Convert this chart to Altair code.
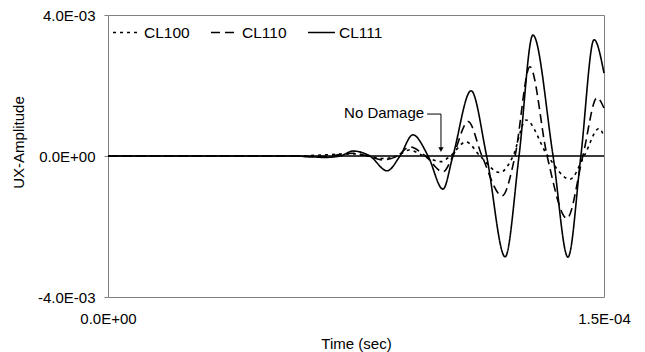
import altair as alt
import pandas as pd

series_names = ["CL100", "CL110", "CL111"]

# time in microseconds, amplitude
cl100_t = [0, 56, 74.0, 78.5, 83.0, 87.5, 91.0, 95.5, 100.7, 103.5, 108.3, 112.5, 118.5, 122.5, 126.4, 133.0, 139.7, 144.0, 148.5, 150.0]
cl100_u = [0, 0, 0.00006, 0, -0.00007, 0, 0.00017, 0, -0.00016, 0, 0.00040, 0, -0.00047, 0, 0.00102, 0, -0.00066, 0, 0.00078, 0.00055]

cl110_t = [0, 56, 62.0, 67.0, 74.1, 78.5, 83.2, 87.5, 91.3, 96.0, 101.3, 104.3, 108.9, 113.1, 119.2, 123.1, 127.6, 132.8, 138.8, 143.6, 147.9, 150.0]
cl110_u = [0, 0, -0.00002, 0, 0.00008, 0, -0.00011, 0, 0.00026, 0, -0.00045, 0, 0.00098, 0, -0.00113, 0, 0.00253, 0, -0.00177, 0, 0.00165, 0.00136]

cl111_t = [0, 56, 61.0, 65.6, 70.2, 74.1, 79.2, 84.4, 88.3, 92.2, 96.8, 101.3, 104.3, 109.8, 114.5, 120.1, 124.3, 128.5, 134.6, 139.1, 143.0, 147.0, 150.0]
cl111_u = [0, 0, -0.00002, -0.00004, 0, 0.00014, 0, -0.00042, 0, 0.00060, 0, -0.00094, 0, 0.00185, 0, -0.00286, 0, 0.00343, 0, -0.00287, 0, 0.00330, 0.00235]

x_tick_values = [0, 150]
x_tick_labels = ["0.0E+00", "1.5E-04"]
y_tick_values = [-0.004, 0, 0.004]
y_tick_labels = ["-4.0E-03", "0.0E+00", "4.0E-03"]

annotation_text = "No Damage"

FONT = "Liberation Sans"

rows = []
for name, ts, us in zip(series_names, [cl100_t, cl110_t, cl111_t], [cl100_u, cl110_u, cl111_u]):
    for i, (t, u) in enumerate(zip(ts, us)):
        rows.append({"series": name, "t": t, "u": u, "order": i})
df = pd.DataFrame(rows)


def label_expr(values, labels, eps):
    expr = "''"
    for v, l in reversed(list(zip(values, labels))):
        expr = f"abs(datum.value - ({v})) < {eps} ? '{l}' : {expr}"
    return expr


xscale = alt.Scale(domain=[0, 150], nice=False, zero=False)
yscale = alt.Scale(domain=[-0.004, 0.004], nice=False)

xaxis = alt.Axis(values=x_tick_values, labelExpr=label_expr(x_tick_values, x_tick_labels, 1e-6),
                 title="Time (sec)", grid=False, ticks=False, labelPadding=14, titlePadding=10,
                 labelFlush=False, labelOverlap=False, domain=False)
yaxis = alt.Axis(values=y_tick_values, labelExpr=label_expr(y_tick_values, y_tick_labels, 1e-9),
                 title="UX-Amplitude", grid=False, tickSize=4, labelPadding=9,
                 titleX=-90, titleY=127, titleAngle=270, titleBaseline="middle", titleAlign="center",
                 labelFlush=False, domain=False)

zero = alt.Chart(pd.DataFrame({"u": [0]})).mark_rule(color="#3a3a3a", strokeWidth=2).encode(
    y=alt.Y("u:Q", scale=yscale, axis=yaxis)
)

lines = alt.Chart(df).mark_line(interpolate="monotone", strokeWidth=1.6, color="black").encode(
    x=alt.X("t:Q", scale=xscale, axis=xaxis),
    y=alt.Y("u:Q", scale=yscale, axis=yaxis),
    strokeDash=alt.StrokeDash(
        "series:N",
        scale=alt.Scale(domain=series_names, range=[[3, 4], [9, 5], [1, 0]]),
        legend=alt.Legend(
            title=None, orient="none", legendX=4, legendY=3, direction="horizontal",
            symbolType="stroke", symbolSize=729, symbolStrokeWidth=1.6,
            symbolStrokeColor="black", labelFontSize=15.5, labelFont=FONT,
            labelOffset=3, columnPadding=17, labelColor="black",
        ),
    ),
    order="order:Q",
)

ann = pd.DataFrame({"t": [83.5], "u": [0.00122], "label": [annotation_text]})
text = alt.Chart(ann).mark_text(font=FONT, fontSize=15, align="center", baseline="middle", color="black").encode(
    x=alt.X("t:Q", scale=xscale), y=alt.Y("u:Q", scale=yscale), text="label:N"
)

arrow_h = alt.Chart(pd.DataFrame({"t": [96.5], "t2": [100.7], "u": [0.00119]})).mark_rule(
    color="black", strokeWidth=1).encode(x=alt.X("t:Q", scale=xscale), x2="t2:Q", y=alt.Y("u:Q", scale=yscale))
arrow_v = alt.Chart(pd.DataFrame({"t": [100.7], "u": [0.00119], "u2": [0.00022]})).mark_rule(
    color="black", strokeWidth=1).encode(x=alt.X("t:Q", scale=xscale), y=alt.Y("u:Q", scale=yscale), y2="u2:Q")
arrow_head = alt.Chart(pd.DataFrame({"t": [100.7], "u": [0.00018]})).mark_point(
    shape="triangle-down", filled=True, size=28, color="black", opacity=1).encode(
    x=alt.X("t:Q", scale=xscale), y=alt.Y("u:Q", scale=yscale))

chart = alt.layer(zero, lines, text, arrow_h, arrow_v, arrow_head).properties(
    width=496, height=282,
    autosize=alt.AutoSizeParams(type="none"),
    padding={"left": 100, "top": 7, "right": 33, "bottom": 55},
).configure_view(
    stroke="#808080", strokeWidth=1
).configure_axis(
    labelFont=FONT, titleFont=FONT, labelFontSize=15, titleFontSize=15,
    titleFontWeight="normal", labelColor="black", titleColor="black", tickColor="#808080",
)

chart.save("out.html", embed_options={"renderer": "svg", "actions": False})
